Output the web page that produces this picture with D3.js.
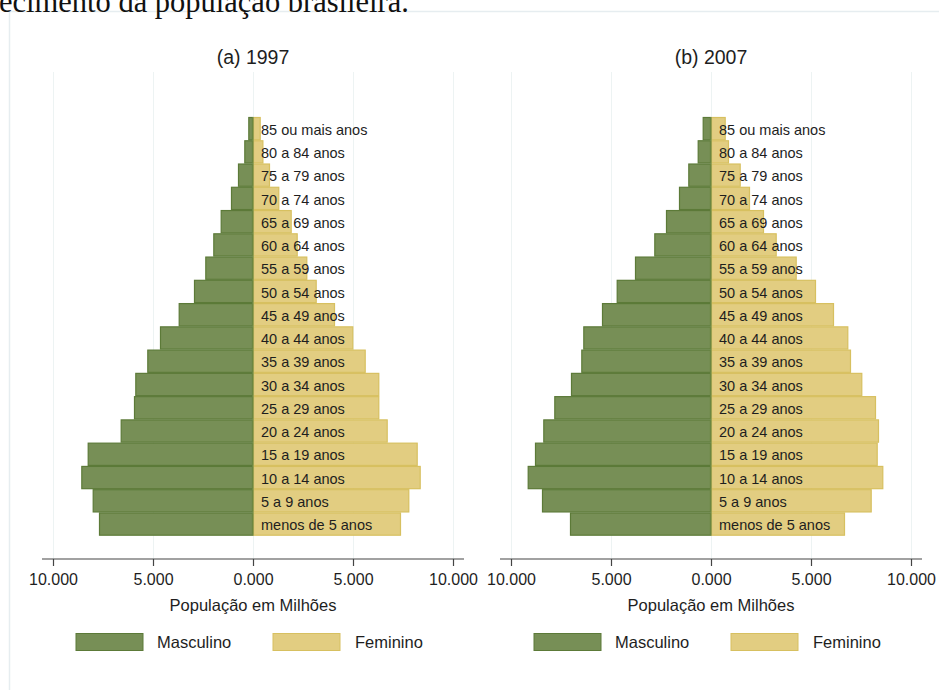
<!DOCTYPE html>
<html>
<head>
<meta charset="utf-8">
<script src="https://cdn.jsdelivr.net/npm/d3@7"></script>
<style>
  html, body { margin: 0; padding: 0; background: #fff; }
  svg { display: block; }
  text { font-family: "Liberation Sans", Arial, sans-serif; fill: #1e1e1e; }
</style>
</head>
<body>
<svg id="chart" width="939" height="690"></svg>
<script>
// ---- data (thousands of people) ----
const ages = ["menos de 5 anos","5 a 9 anos","10 a 14 anos","15 a 19 anos","20 a 24 anos","25 a 29 anos","30 a 34 anos","35 a 39 anos","40 a 44 anos","45 a 49 anos","50 a 54 anos","55 a 59 anos","60 a 64 anos","65 a 69 anos","70 a 74 anos","75 a 79 anos","80 a 84 anos","85 ou mais anos"];
const male1997   = [7700, 8015, 8585, 8265, 6615, 5950, 5885, 5285, 4650, 3715, 2950, 2385, 1985, 1615, 1100, 750, 435, 235];
const female1997 = [7400, 7815, 8385, 8235, 6735, 6315, 6315, 5635, 5015, 4100, 3185, 2715, 2235, 1935, 1315, 850, 520, 385];
const male2007   = [7050, 8450, 9165, 8800, 8385, 7835, 7000, 6485, 6385, 5450, 4715, 3800, 2835, 2250, 1600, 1135, 665, 415];
const female2007 = [6700, 8035, 8615, 8335, 8400, 8250, 7565, 7000, 6865, 6150, 5250, 4285, 3285, 2650, 1950, 1485, 900, 735];
const panelTitles = ["(a) 1997", "(b) 2007"];
const tickValues = [-10000, -5000, 0, 5000, 10000];
const tickLabels = ["10.000", "5.000", "0.000", "5.000", "10.000"];
const axisTitle = "População em Milhões";
const legendLabels = ["Masculino", "Feminino"];
const headerText = "ecimento da população brasileira.";

const panels = [
  { title: panelTitles[0], male: male1997, female: female1997, cx: 253 },
  { title: panelTitles[1], male: male2007, female: female2007, cx: 711 }
];

const maleFill = "#778f56", maleStroke = "#5c7a38";
const femFill = "#e2cd81", femStroke = "#d7c060";

const svg = d3.select("#chart");
svg.append("rect").attr("width", 939).attr("height", 690).attr("fill", "#fff");

// outer frame (light)
svg.append("path")
  .attr("d", "M9.5,690 L9.5,11.5 L939,11.5")
  .attr("fill", "none").attr("stroke", "#e6edf0").attr("stroke-width", 1.5);

// header text (cropped document text, as in the reference)
svg.append("text")
  .attr("x", -1).attr("y", 12)
  .style("font-family", "'Liberation Serif', 'Times New Roman', serif")
  .style("font-size", "30.5px")
  .style("fill", "#111")
  .text(headerText);

const y = d3.scaleBand().domain(ages.slice().reverse()).range([117, 535.7]).padding(0);
const axisY = 559;

panels.forEach(p => {
  const x = d3.scaleLinear().domain([-10000, 10000]).range([p.cx - 200, p.cx + 200]);
  const g = svg.append("g");

  // gridlines
  g.selectAll("line.grid").data(tickValues).enter().append("line")
    .attr("x1", d => x(d) + 0.5).attr("x2", d => x(d) + 0.5)
    .attr("y1", 72).attr("y2", axisY)
    .attr("stroke", "#edf3f3").attr("stroke-width", 1);

  // title
  g.append("text").attr("x", p.cx).attr("y", 64)
    .attr("text-anchor", "middle").style("font-size", "19.5px").text(p.title);

  // male bars
  g.selectAll("rect.m").data(ages).enter().append("rect")
    .attr("x", (d, i) => x(-p.male[i]) + 0.5)
    .attr("y", d => y(d) + 0.5)
    .attr("width", (d, i) => x(0) - x(-p.male[i]) - 1)
    .attr("height", y.bandwidth() - 1)
    .attr("fill", maleFill).attr("stroke", maleStroke).attr("stroke-width", 1.2);

  // female bars
  g.selectAll("rect.f").data(ages).enter().append("rect")
    .attr("x", x(0) + 0.5)
    .attr("y", d => y(d) + 0.5)
    .attr("width", (d, i) => x(p.female[i]) - x(0) - 1)
    .attr("height", y.bandwidth() - 1)
    .attr("fill", femFill).attr("stroke", femStroke).attr("stroke-width", 1.2);

  // centre line
  g.append("line").attr("x1", x(0)).attr("x2", x(0))
    .attr("y1", y.range()[0]).attr("y2", y.range()[1])
    .attr("stroke", "#6f8a45").attr("stroke-width", 1.2);

  // age labels
  g.selectAll("text.age").data(ages).enter().append("text")
    .attr("x", x(0) + 8)
    .attr("y", d => y(d) + y.bandwidth() / 2)
    .attr("dy", "0.42em")
    .style("font-size", "14.5px")
    .text(d => d);

  // axis
  const axis = d3.axisBottom(x).tickValues(tickValues)
    .tickFormat((d, i) => tickLabels[i]).tickSize(7).tickPadding(8);
  const ag = g.append("g").attr("transform", `translate(0,${axisY})`).call(axis);
  ag.select(".domain").remove();
  ag.selectAll(".tick line").attr("stroke", "#444").attr("stroke-width", 1.2);
  ag.selectAll(".tick text").style("font-size", "16px").style("font-family", "'Liberation Sans', Arial, sans-serif").attr("fill", "#1e1e1e");
  ag.append("line").attr("x1", x(-10550)).attr("x2", x(10550))
    .attr("y1", 0).attr("y2", 0).attr("stroke", "#444").attr("stroke-width", 1.2);

  // axis title
  g.append("text").attr("x", p.cx).attr("y", 611)
    .attr("text-anchor", "middle").style("font-size", "16.5px").text(axisTitle);

  // legend
  const leg = [
    { fill: maleFill, stroke: maleStroke, x0: -177, tx: -96, label: legendLabels[0] },
    { fill: femFill, stroke: femStroke, x0: 20, tx: 102, label: legendLabels[1] }
  ];
  leg.forEach(l => {
    g.append("rect").attr("x", p.cx + l.x0).attr("y", 633.5)
      .attr("width", 67).attr("height", 17)
      .attr("fill", l.fill).attr("stroke", l.stroke).attr("stroke-width", 1);
    g.append("text").attr("x", p.cx + l.tx).attr("y", 648)
      .style("font-size", "16.5px").text(l.label);
  });
});
</script>
</body>
</html>
